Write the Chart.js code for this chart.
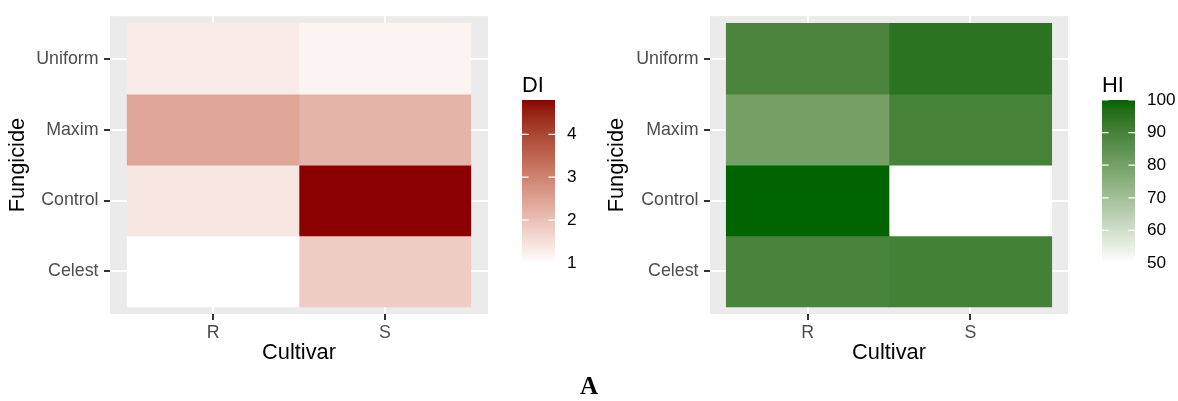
<!DOCTYPE html>
<html><head><meta charset="utf-8">
<script src="https://cdn.jsdelivr.net/npm/chart.js@4/dist/chart.umd.min.js"></script>
<style>
html,body{margin:0;padding:0;background:#fff;width:1178px;height:401px;overflow:hidden;position:relative}
#c1{position:absolute;left:0;top:0}
#c2{position:absolute;left:580px;top:0}
#lab{position:absolute;left:589px;top:385px;transform:translate(-50%,-50%);font:bold 25px "Liberation Serif","Times New Roman",serif;line-height:1;color:#000}
</style></head>
<body>
<canvas id="c1" width="580" height="401" style="width:580px;height:401px"></canvas>
<canvas id="c2" width="598" height="401" style="width:598px;height:401px"></canvas>
<div id="lab">A</div>
<script>
// ---- data ----
const cultivars = ['R', 'S'];
const fungicides = ['Celest', 'Control', 'Maxim', 'Uniform'];
const diR = [1.0, 1.39, 2.44, 1.31];
const diS = [1.79, 4.8, 2.20, 1.18];
const hiR = [89.5, 100, 80, 89];
const hiS = [90.5, 50, 90, 95];
const diTicks = [1, 2, 3, 4];
const hiTicks = [50, 60, 70, 80, 90, 100];

// ---- colour ramp in CIELAB (like ggplot scale_fill_gradient) ----
function s2l(c){c/=255;return c<=0.04045?c/12.92:Math.pow((c+0.055)/1.055,2.4);}
function l2s(c){const v=c<=0.0031308?12.92*c:1.055*Math.pow(c,1/2.4)-0.055;return Math.max(0,Math.min(255,Math.round(v*255)));}
function rgbToLab(rgb){const R=s2l(rgb[0]),G=s2l(rgb[1]),B=s2l(rgb[2]);
  const X=(0.4124564*R+0.3575761*G+0.1804375*B)/0.95047;
  const Y=(0.2126729*R+0.7151522*G+0.0721750*B);
  const Z=(0.0193339*R+0.1191920*G+0.9503041*B)/1.08883;
  const f=t=>t>0.008856?Math.cbrt(t):(7.787*t+16/116);
  const fx=f(X),fy=f(Y),fz=f(Z);
  return [116*fy-16,500*(fx-fy),200*(fy-fz)];}
function labToRgb(lab){const fy=(lab[0]+16)/116,fx=fy+lab[1]/500,fz=fy-lab[2]/200;
  const fi=t=>t*t*t>0.008856?t*t*t:(t-16/116)/7.787;
  const X=fi(fx)*0.95047,Y=fi(fy),Z=fi(fz)*1.08883;
  const R=3.2404542*X-1.5371385*Y-0.4985314*Z;
  const G=-0.9692660*X+1.8760108*Y+0.0415560*Z;
  const B=0.0556434*X-0.2040259*Y+1.0572252*Z;
  return [l2s(R),l2s(G),l2s(B)];}
function makeRamp(low, high, min, max){
  const a=rgbToLab(low), b=rgbToLab(high);
  return v=>{let t=(v-min)/(max-min);t=Math.max(0,Math.min(1,t));
    const c=labToRgb([a[0]+(b[0]-a[0])*t,a[1]+(b[1]-a[1])*t,a[2]+(b[2]-a[2])*t]);
    return 'rgb('+c[0]+','+c[1]+','+c[2]+')';};
}

const FONT = '"Liberation Sans", Arial, sans-serif';

const bgPlugin = {id:'panelbg', beforeDraw(chart){const {ctx,chartArea:a}=chart;ctx.save();ctx.fillStyle='#EBEBEB';ctx.fillRect(a.left,a.top,a.right-a.left,a.bottom-a.top);ctx.restore();}};

const colorbarPlugin = {id:'colorbar', afterDraw(chart, args, o){
  const ctx=chart.ctx; ctx.save();
  const x=o.x, top=o.top, bottom=o.bottom, w=o.width, h=bottom-top;
  for(let py=0;py<h;py++){
    const v=o.max-(py+0.5)/h*(o.max-o.min);
    ctx.fillStyle=o.ramp(v); ctx.fillRect(x,top+py,w,1.02);
  }
  const ypos=v=>bottom-(v-o.min)/(o.max-o.min)*h;
  ctx.strokeStyle='#fff'; ctx.lineWidth=1.2;
  o.ticks.forEach(v=>{const y=ypos(v); ctx.beginPath(); ctx.moveTo(x,y);ctx.lineTo(x+w*0.2,y);ctx.moveTo(x+w*0.8,y);ctx.lineTo(x+w,y);ctx.stroke();});
  ctx.fillStyle='#000'; ctx.font='17.2px '+FONT; ctx.textBaseline='middle'; ctx.textAlign='left';
  o.ticks.forEach(v=>{ctx.fillText(String(v), x+w+12, ypos(v));});
  ctx.font='21.8px '+FONT; ctx.textBaseline='alphabetic';
  ctx.fillText(o.title, x, o.titleY);
  ctx.restore();
}};

function heat(id, rVals, sVals, low, high, title, legendTicks, yAxisWidth, yTitlePad, rightPad){
  const all=rVals.concat(sVals);
  const min=Math.min(...all), max=Math.max(...all);
  const ramp=makeRamp(low, high, min, max);
  const series=[rVals, sVals];
  const datasets=cultivars.map((c,ci)=>({
    label:c,
    data:fungicides.map((f,fi)=>({y:fi+1, x:[ci+0.5, ci+1.5]})),
    backgroundColor:series[ci].map(v=>ramp(v)),
    borderWidth:0, borderSkipped:false,
    barPercentage:1, categoryPercentage:1, grouped:false
  }));
  return new Chart(document.getElementById(id), {
    type:'bar',
    data:{datasets},
    plugins:[bgPlugin, colorbarPlugin],
    options:{
      indexAxis:'y', responsive:false, animation:false, devicePixelRatio:1,
      layout:{padding:{top:13, right:rightPad, bottom:35, left:0}},
      plugins:{legend:{display:false}, tooltip:{enabled:false},
        colorbar:{x:522, top:100, bottom:263, width:33, min, max, ramp, ticks:legendTicks, title, titleY:92}},
      scales:{
        x:{type:'linear', position:'bottom', min:0.4, max:2.6, offset:false,
          afterBuildTicks:s=>{s.ticks=cultivars.map((c,i)=>({value:i+1}));},
          afterFit:s=>{s.height=52;},
          ticks:{callback:v=>cultivars[Math.round(v)-1], font:{family:FONT,size:17.8}, color:'#4D4D4D', padding:2, maxRotation:0, autoSkip:false},
          grid:{color:'#FFFFFF', lineWidth:2, tickColor:'#333333', tickLength:6, tickWidth:2, drawTicks:true, offset:false},
          border:{display:false},
          title:{display:true, text:'Cultivar', font:{family:FONT,size:21.8}, color:'#000', padding:{top:0,bottom:0}}
        },
        y:{type:'linear', position:'left', min:0.4, max:4.6, offset:false,
          afterBuildTicks:s=>{s.ticks=fungicides.map((f,i)=>({value:i+1}));},
          afterFit:s=>{s.width=yAxisWidth;},
          ticks:{callback:v=>fungicides[Math.round(v)-1], font:{family:FONT,size:17.8}, color:'#4D4D4D', padding:5.5, autoSkip:false},
          grid:{color:'#FFFFFF', lineWidth:2, tickColor:'#333333', tickLength:6, tickWidth:2, offset:false},
          border:{display:false},
          title:{display:true, text:'Fungicide', font:{family:FONT,size:21.8}, color:'#000', padding:{top:yTitlePad,bottom:0}}
        }
      }
    }
  });
}

heat('c1', diR, diS, [255,255,255], [139,0,0], 'DI', diTicks, 110, 5, 92);
heat('c2', hiR, hiS, [255,255,255], [0,100,0], 'HI', hiTicks, 130, 24, 110);
</script>
</body></html>
